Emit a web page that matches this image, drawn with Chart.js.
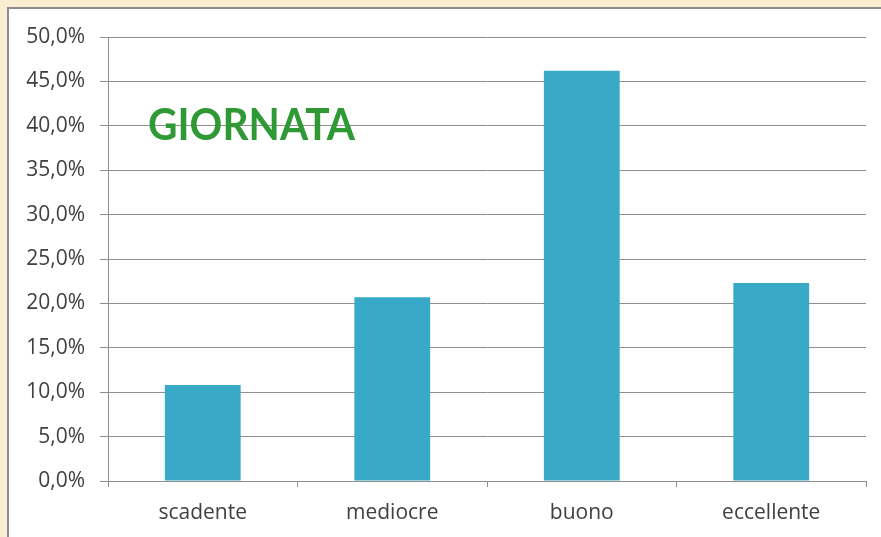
<!DOCTYPE html>
<html>
<head>
<meta charset="utf-8">
<script src="https://cdn.jsdelivr.net/npm/chart.js@4.4.1/dist/chart.umd.min.js"></script>
<style>
  html, body { margin: 0; padding: 0; }
  body { width: 881px; height: 537px; background: #f9ecd0; overflow: hidden; position: relative; }
  #panel {
    position: absolute; left: 7px; top: 7px; width: 874px; height: 530px;
    background: #fff; border-left: 2px solid #8c8c8c; border-top: 2px solid #8c8c8c;
  }
  #wrap { position: absolute; left: 0; top: 0; width: 872px; height: 528px; }
</style>
</head>
<body>
<div id="panel"><div id="wrap"><canvas id="barChart"></canvas></div></div>
<script>
// data
const categories = ["scadente", "mediocre", "buono", "eccellente"];
const giornata = [10.8, 20.7, 46.2, 22.3];
const chartTitle = "GIORNATA";

// green label inside the plot
const titlePlugin = {
  id: "titleText",
  afterDatasetsDraw(chart) {
    const ctx = chart.ctx;
    ctx.save();
    ctx.font = "bold 44px Lato";
    ctx.fillStyle = "#2f9a35";
    ctx.textBaseline = "alphabetic";
    ctx.fillText(chartTitle, 139, 131, 207);
    ctx.restore();
  },
};

const gridColor = "#8e8e8e";
const textColor = "#404040";

const barChart = new Chart(document.getElementById("barChart"), {
  type: "bar",
  data: {
    labels: categories,
    datasets: [
      {
        label: chartTitle,
        data: giornata,
        backgroundColor: "#38a9c6",
        borderWidth: 0,
        categoryPercentage: 1,
        barPercentage: 0.4,
      },
    ],
  },
  options: {
    responsive: true,
    maintainAspectRatio: false,
    animation: false,
    layout: { padding: { left: 0, right: 15, top: 28, bottom: 0 } },
    scales: {
      y: {
        min: 0,
        max: 50,
        afterFit(scale) { scale.width = 99; },
        ticks: {
          stepSize: 5,
          padding: 15,
          color: textColor,
          font: { family: "Open Sans", size: 21 },
          callback: (v) => v.toFixed(1).replace(".", ",") + "%",
        },
        grid: { color: gridColor, lineWidth: 1, tickLength: 8 },
        border: { color: gridColor, width: 1 },
      },
      x: {
        afterFit(scale) { scale.height = 56; },
        ticks: {
          padding: 13,
          color: textColor,
          font: { family: "Open Sans", size: 21 },
        },
        grid: { drawOnChartArea: false, color: gridColor, tickLength: 6, offset: true },
        border: { color: gridColor, width: 1 },
      },
    },
    plugins: {
      legend: { display: false },
      tooltip: { enabled: false },
    },
  },
  plugins: [titlePlugin],
});
</script>
</body>
</html>
